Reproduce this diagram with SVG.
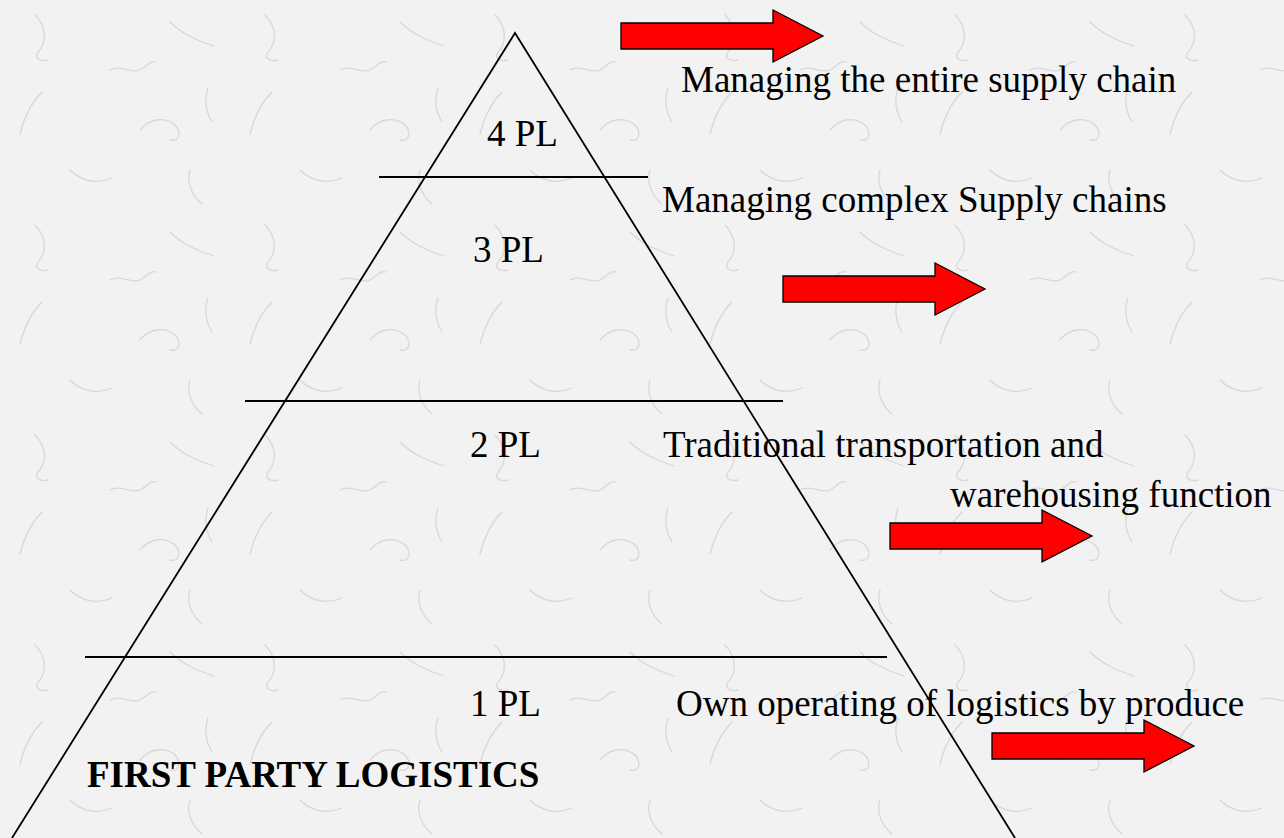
<svg xmlns="http://www.w3.org/2000/svg" width="1284" height="838" viewBox="0 0 1284 838">
  <style>
    .t { font-family: "Liberation Serif", "Times New Roman", serif; font-size: 37px; fill: #000; }
    .b { font-weight: bold; }
    .ln { stroke: #000; stroke-width: 1.8; fill: none; }
    .arr { fill: #ff0000; stroke: #000; stroke-width: 1.3; stroke-linejoin: miter; }
    .fib { fill: none; stroke: #d9d7d7; stroke-width: 1.3; stroke-linecap: round; }
  </style>
  <defs>
    <pattern id="paper" width="230" height="210" patternUnits="userSpaceOnUse">
      <rect width="230" height="210" fill="#f3f2f2"/>
      <path class="fib" d="M35 15 C 48 28, 46 44, 38 52 C 34 58, 40 62, 48 60"/>
      <path class="fib" d="M42 92 C 30 104, 24 118, 20 134"/>
      <path class="fib" d="M170 22 C 182 34, 196 40, 214 46"/>
      <path class="fib" d="M110 70 C 120 64, 132 74, 140 70 C 148 66, 150 60, 156 62"/>
      <path class="fib" d="M140 130 C 150 118, 166 116, 176 126 C 182 134, 178 142, 170 140"/>
      <path class="fib" d="M70 170 C 82 182, 98 184, 112 178"/>
      <path class="fib" d="M208 88 C 204 100, 206 112, 212 122"/>
      <path class="fib" d="M190 170 C 186 182, 192 196, 202 204"/>
    </pattern>
    <path id="arrow" d="M0,-13 H152 V-26 L202,0 L152,26 V13 H0 Z"/>
  </defs>
  <rect width="1284" height="838" fill="url(#paper)"/>

  <g id="connectors">
    <path id="pyramid" class="ln" d="M12,838 L515,33 L1015,838"/>
    <line class="ln" x1="379" y1="177" x2="648" y2="177"/>
    <line class="ln" x1="245" y1="401" x2="783" y2="401"/>
    <line class="ln" x1="85" y1="657" x2="887" y2="657"/>
    <use class="arr" href="#arrow" transform="translate(621,36)"/>
    <use class="arr" href="#arrow" transform="translate(783,289)"/>
    <use class="arr" href="#arrow" transform="translate(890,536)"/>
    <use class="arr" href="#arrow" transform="translate(992,746)"/>
  </g>

  <g id="level4">
    <text class="t" x="487" y="146">4 PL</text>
    <text class="t" x="681" y="92">Managing the entire supply chain</text>
  </g>
  <g id="level3">
    <text class="t" x="473" y="262">3 PL</text>
    <text class="t" x="662" y="212">Managing complex Supply chains</text>
  </g>
  <g id="level2">
    <text class="t" x="470" y="457">2 PL</text>
    <text class="t" x="663" y="457">Traditional transportation and</text>
    <text class="t" x="950" y="507">warehousing function</text>
  </g>
  <g id="level1">
    <text class="t" x="470" y="716">1 PL</text>
    <text class="t" x="676" y="716">Own operating of logistics by produce</text>
    <text class="t b" x="87" y="787">FIRST PARTY LOGISTICS</text>
  </g>
</svg>
